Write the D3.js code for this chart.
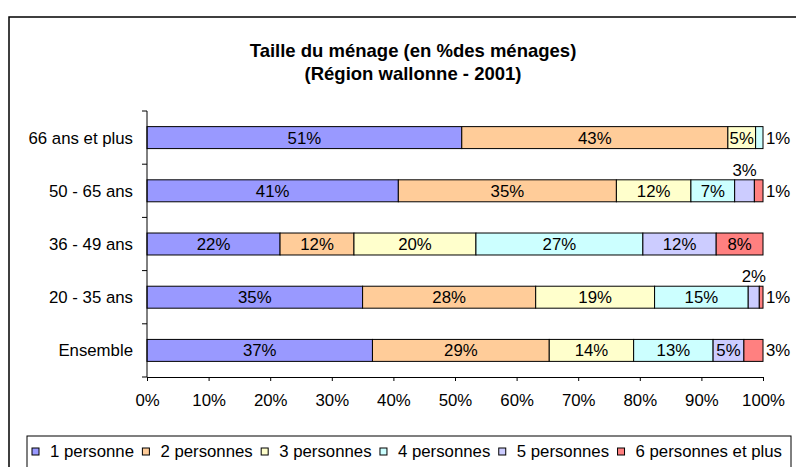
<!DOCTYPE html>
<html>
<head>
<meta charset="utf-8">
<script src="https://cdn.jsdelivr.net/npm/d3@7"></script>
<style>
  body { margin: 0; background: #fff; }
  svg { display: block; font-family: "Liberation Sans", Arial, sans-serif; }
</style>
</head>
<body>
<div id="chart"></div>
<script>
// categories (top to bottom)
var ageGroups = ["66 ans et plus", "50 - 65 ans", "36 - 49 ans", "20 - 35 ans", "Ensemble"];
var seriesNames = ["1 personne", "2 personnes", "3 personnes", "4 personnes", "5 personnes", "6 personnes et plus"];
var seriesColors = ["#9999ff", "#ffcc99", "#ffffcc", "#ccffff", "#ccccff", "#ff8080"];

// % of households, one array per series, in ageGroups order
var onePers   = [51.1, 40.8, 21.6, 35.0, 36.6];
var twoPers   = [43.2, 35.4, 12.0, 28.1, 28.7];
var threePers = [4.5, 12.1, 19.8, 19.3, 13.7];
var fourPers  = [1.2, 7.1, 27.1, 15.2, 12.9];
var fivePers  = [0, 3.2, 11.9, 1.8, 5.0];
var sixPers   = [0, 1.4, 7.6, 0.6, 3.1];

var xTicks = [0, 10, 20, 30, 40, 50, 60, 70, 80, 90, 100];

var svgWidth = 796;
var svgHeight = 467;

var svg = d3.select("#chart")
  .append("svg")
  .attr("width", svgWidth)
  .attr("height", svgHeight);

// outer frame
svg.append("rect")
  .attr("x", 9).attr("y", 17)
  .attr("width", 820).attr("height", 480)
  .attr("fill", "#fff")
  .attr("stroke", "#000")
  .attr("stroke-width", 1.5);

// title
var title = svg.append("text")
  .attr("text-anchor", "middle")
  .attr("font-weight", "bold")
  .attr("font-size", "18.5px")
  .attr("fill", "#000");
title.append("tspan").attr("x", 413).attr("y", 57).text("Taille du ménage (en %des ménages)");
title.append("tspan").attr("x", 413).attr("y", 80).text("(Région wallonne - 2001)");

var x = d3.scaleLinear().domain([0, 100]).range([147, 763]);
var y = d3.scaleBand()
  .domain(ageGroups)
  .range([111, 377])
  .paddingInner(0.587)
  .paddingOuter(0.2935);

// build rows
var allSeries = [onePers, twoPers, threePers, fourPers, fivePers, sixPers];
var rows = ageGroups.map(function(g, i) {
  var row = { group: g };
  seriesNames.forEach(function(s, j) { row[s] = allSeries[j][i]; });
  return row;
});
var stacked = d3.stack().keys(seriesNames)(rows);

var fontSize = 16.8;

// bars
var layers = svg.selectAll("g.layer")
  .data(stacked)
  .enter()
  .append("g")
  .attr("class", "layer")
  .attr("fill", (d, i) => seriesColors[i]);

layers.selectAll("rect")
  .data(d => d.filter(p => p[1] - p[0] > 0))
  .enter()
  .append("rect")
  .attr("x", d => x(d[0]))
  .attr("y", d => y(d.data.group))
  .attr("width", d => x(d[1]) - x(d[0]))
  .attr("height", y.bandwidth())
  .attr("stroke", "#000")
  .attr("stroke-width", 1);

// axes
var axisG = svg.append("g");
axisG.append("line")
  .attr("x1", x(0)).attr("x2", x(0))
  .attr("y1", 111).attr("y2", 377)
  .attr("stroke", "#000");
var bandEdges = ageGroups.map(g => y(g) - y.step() * 0.2935).concat([377]);
axisG.selectAll("line.ytick")
  .data(bandEdges)
  .enter().append("line")
  .attr("class", "ytick")
  .attr("x1", x(0) - 5).attr("x2", x(0))
  .attr("y1", d => d).attr("y2", d => d)
  .attr("stroke", "#000");

var xAxis = d3.axisBottom(x)
  .tickValues(xTicks)
  .tickSize(4)
  .tickPadding(13)
  .tickFormat(d => d + "%");
var xg = svg.append("g")
  .attr("transform", "translate(0,377)")
  .call(xAxis);
xg.select(".domain").attr("stroke", "#000");
xg.selectAll("text")
  .attr("font-size", fontSize + "px")
  .attr("font-family", "Liberation Sans, Arial, sans-serif")
  .attr("fill", "#000");

// category labels
svg.selectAll("text.cat")
  .data(ageGroups)
  .enter().append("text")
  .attr("class", "cat")
  .attr("x", 133)
  .attr("y", d => y(d) + y.bandwidth() / 2)
  .attr("dy", "0.36em")
  .attr("text-anchor", "end")
  .attr("font-size", fontSize + "px")
  .attr("fill", "#000")
  .text(d => d);

// value labels
var labelG = svg.append("g")
  .attr("font-size", fontSize + "px")
  .attr("fill", "#000");
stacked.forEach(function(layer, li) {
  layer.forEach(function(p) {
    var v = p[1] - p[0];
    if (v <= 0) return;
    var txt = Math.round(v) + "%";
    var w = x(p[1]) - x(p[0]);
    var isLast = p[1] >= 99.95;
    var t = labelG.append("text").text(txt);
    var tw = t.node().getComputedTextLength();
    var cy = y(p.data.group) + y.bandwidth() / 2;
    if (tw <= w - 2) {
      t.attr("x", x(p[0]) + w / 2).attr("y", cy).attr("dy", "0.36em").attr("text-anchor", "middle");
    } else if (isLast) {
      t.attr("x", x(p[1]) + 3).attr("y", cy).attr("dy", "0.36em").attr("text-anchor", "start");
    } else {
      t.attr("x", x(p[0]) + w / 2).attr("y", y(p.data.group) - 4).attr("text-anchor", "middle");
    }
  });
});

// legend
svg.append("rect")
  .attr("x", 27).attr("y", 436)
  .attr("width", 764).attr("height", 60)
  .attr("fill", "#fff")
  .attr("stroke", "#000");

var legend = svg.append("g").attr("font-size", fontSize + "px").attr("fill", "#000");
var items = seriesNames.map(function(name, i) {
  var g = legend.append("g");
  g.append("rect")
    .attr("width", 7).attr("height", 7)
    .attr("y", 448)
    .attr("fill", seriesColors[i])
    .attr("stroke", "#000");
  var t = g.append("text").attr("y", 457).text(name);
  return { g: g, t: t, w: t.node().getComputedTextLength() };
});
var swatchW = 7, swatchGap = 11;
var total = d3.sum(items, d => swatchW + swatchGap + d.w);
var itemGap = (782 - 32 - total) / (items.length - 1);
var cx = 32;
items.forEach(function(it) {
  it.g.select("rect").attr("x", cx);
  it.t.attr("x", cx + swatchW + swatchGap);
  cx += swatchW + swatchGap + it.w + itemGap;
});
</script>
</body>
</html>
